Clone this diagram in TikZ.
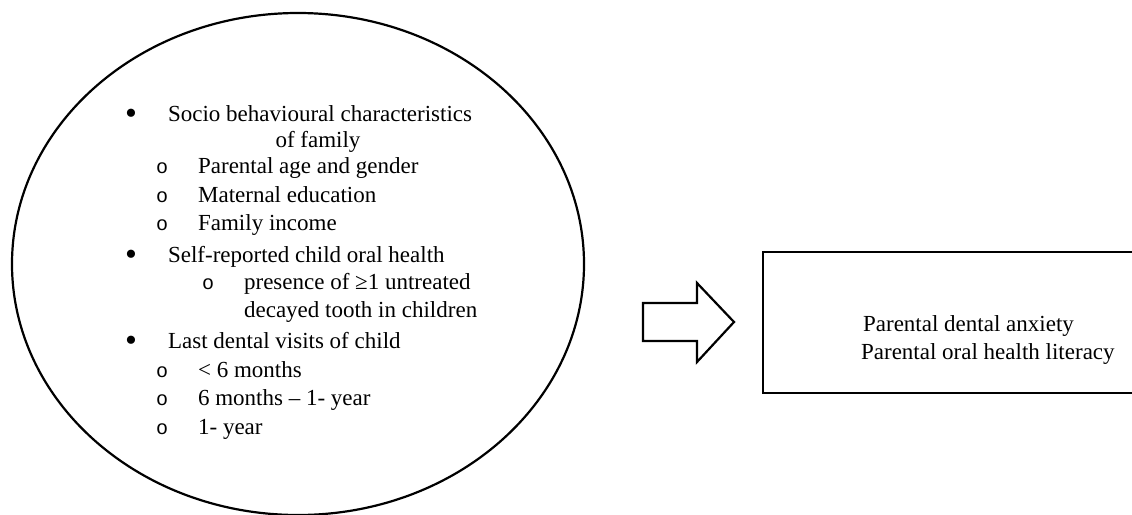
\documentclass[tikz,border=0pt]{standalone}
\usepackage{fontspec}
\setmainfont{Liberation Serif}
\newfontfamily\subfont{Liberation Mono}
\usetikzlibrary{positioning}

\begin{document}
\begin{tikzpicture}[x=1pt,y=-1pt,line width=2.2pt,
    every node/.style={font=\fontsize{23}{28}\selectfont},
    txt/.style={anchor=base west, inner sep=0pt},
    bul/.style={anchor=base, inner sep=0pt},
    dotbul/.style={anchor=base, inner sep=0pt, font=\fontsize{34}{34}\selectfont},
    sub/.style={anchor=base, inner sep=0pt, font=\fontsize{20}{28}\subfont}]
    \def\blockarrow{(643,303) -- (697,303) -- (697,283) -- (734,322) -- (697,362) -- (697,341) -- (643,341) -- cycle};
    \useasboundingbox (0,0) rectangle (1132,514);
    \clip (0,0) rectangle (1132,514);
    \draw (298,264) ellipse [x radius=286pt, y radius=251pt];
	\draw \blockarrow;
	\draw (763,252) rectangle (1150,393);
	% first group
	\node[dotbul] (dotA) at (131,124) {•};
	\node[txt] (socio) at (167,121) {Socio behavioural characteristics};
	\node[bul] (family) at (318,147) {of family};
	\node[sub] (subA) at (162,173) {o};
	\node[txt] (age) at (197,173) {Parental age and gender};
	\node[sub] (subB) at (162,202) {o};
	\node[txt] (edu) at (197,202) {Maternal education};
	\node[sub] (subC) at (162,230) {o};
	\node[txt] (income) at (197,230) {Family income};
	% second group
	\node[dotbul] (dotB) at (131,265) {•};
	\node[txt] (selfrep) at (167,262) {Self-reported child oral health};
	\node[sub] (subD) at (208,289) {o};
	\node[txt] (presence) at (243,289) {presence of ≥1 untreated};
	\node[txt] (decayed) at (243,317) {decayed tooth in children};
	% third group
	\node[dotbul] (dotC) at (131,351) {•};
	\node[txt] (visits) at (167,348) {Last dental visits of child};
	\node[sub] (subE) at (162,377) {o};
	\node[txt] (lessix) at (197,377) {< 6 months};
	\node[sub] (subF) at (162,405) {o};
	\node[txt] (sixone) at (197,405) {6 months – 1- year};
	\node[sub] (subG) at (162,434) {o};
	\node[txt] (oneyr) at (197,434) {1- year};
	% outcome box
	\node[txt] (anxiety) at (862,331) {Parental dental anxiety};
	\node[txt] (literacy) at (860,359) {Parental oral health literacy};
\end{tikzpicture}
\end{document}
